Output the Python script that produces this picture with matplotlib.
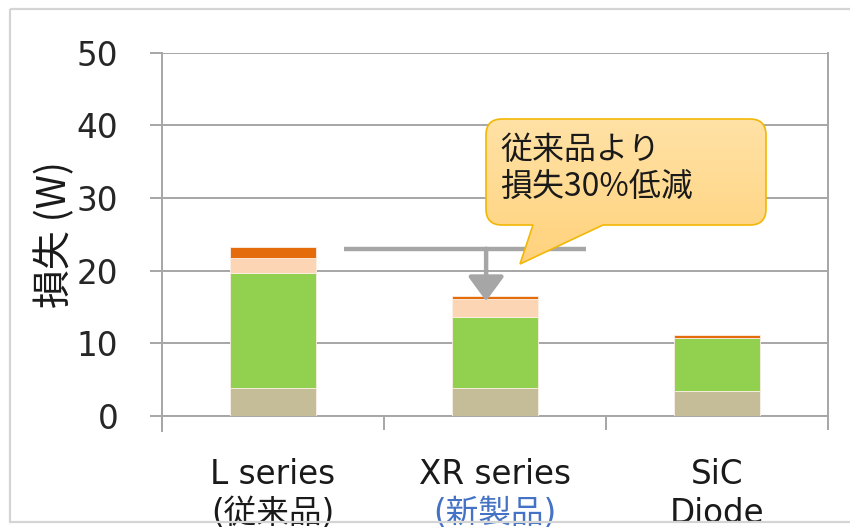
import numpy as np
import matplotlib
matplotlib.use('Agg')
import matplotlib.pyplot as plt
from matplotlib.path import Path
from matplotlib.patches import PathPatch, Rectangle
from matplotlib.colors import LinearSegmentedColormap
from matplotlib.transforms import Affine2D

plt.rcParams['font.family'] = ['DejaVu Sans', 'Noto Sans CJK JP']

# data
categories = ['L series\n(従来品)', 'XR series\n(新製品)', 'SiC\nDiode']
sub_colors = ['#1A1A1A', '#4472C4', '#1A1A1A']
base_loss = [3.9, 3.9, 3.4]
green_loss = [15.8, 9.7, 7.3]
peach_loss = [2.1, 2.5, 0.0]
orange_loss = [1.5, 0.4, 0.5]
yticks = [0, 10, 20, 30, 40, 50]

colors = ['#C4BD97', '#92D050', '#FCD5B5', '#E46C0A']
grid_c = '#A6A6A6'

W, H = 850, 527
fig = plt.figure(figsize=(W / 100, H / 100), dpi=100)
ax = fig.add_axes([162 / W, 1 - 416 / H, (828 - 162) / W, (416 - 52.5) / H])

# pixel coords (origin top-left) -> figure
px = Affine2D().scale(1 / W, -1 / H).translate(0, 1) + fig.transFigure

# light outer frame
fig.patches.append(Rectangle((10, 9), 900, 513, transform=px, fill=False,
                             ec='#D4D4D4', lw=1.6))

x = np.arange(len(categories))
bottom = np.zeros(len(categories))
for vals, c in zip([base_loss, green_loss, peach_loss, orange_loss], colors):
    ax.bar(x, vals, width=0.39, bottom=bottom, color=c, edgecolor='#FBEFE6',
           linewidth=0.6, zorder=3)
    bottom += np.array(vals)
totals = bottom

ax.set_xlim(-0.5, 2.5)
ax.set_ylim(0, 50)
ax.set_yticks(yticks)
ax.yaxis.grid(True, color=grid_c, lw=1.4)
ax.set_axisbelow(True)
for s in ax.spines.values():
    s.set_color(grid_c)
    s.set_linewidth(1.4)
ax.spines['left'].set_bounds(-2, 50)
ax.spines['top'].set_visible(False)

ax.set_xticks([-0.5, 0.5, 1.5, 2.5])
ax.set_xticklabels([])
ax.set_xticks(x, minor=True)
ax.set_xticklabels([c.split('\n')[0] for c in categories], minor=True,
                   fontsize=23.5, color='#1A1A1A')
ax.tick_params(axis='x', which='major', length=10, width=1.4, color=grid_c)
ax.tick_params(axis='x', which='minor', length=0, pad=30)
ax.tick_params(axis='y', length=8.5, width=1.4, color=grid_c, pad=23,
               labelsize=23.5, labelcolor='#262626')
ax.set_ylabel('損失 (W)', fontsize=28, labelpad=1, color='#1A1A1A',
              family=['Noto Sans CJK JP', 'DejaVu Sans'])

# second line of each category label
for i, c in enumerate(categories):
    ax.annotate(c.split('\n')[1], xy=(i, 0), xycoords=('data', 'axes fraction'),
                xytext=(0, -58), textcoords='offset points', ha='center',
                va='top', fontsize=23.5, color=sub_colors[i])

# comparison line and arrow
ax.plot([0.32, 1.41], [totals[0] - 0.3, totals[0] - 0.3], color=grid_c,
        lw=3.2, solid_capstyle='butt', zorder=4)
ax.annotate('', xy=(0.96, totals[1] - 0.7), xytext=(0.96, totals[0] - 0.3),
            arrowprops=dict(arrowstyle='-|>,head_length=0.75,head_width=0.55',
                            color=grid_c, lw=3.2, shrinkA=0, shrinkB=0,
                            mutation_scale=20),
            zorder=4)

# speech-bubble callout (pixel layout)
x0, x1, y0, y1, r = 486, 766, 119, 225, 16
tip = (520, 264)
tb0, tb1 = 533, 603
verts = [(x0 + r, y0), (x1 - r, y0), (x1, y0), (x1, y0 + r),
         (x1, y1 - r), (x1, y1), (x1 - r, y1),
         (tb1, y1), tip, (tb0, y1),
         (x0 + r, y1), (x0, y1), (x0, y1 - r),
         (x0, y0 + r), (x0, y0), (x0 + r, y0)]
codes = [Path.MOVETO, Path.LINETO, Path.CURVE3, Path.CURVE3,
         Path.LINETO, Path.CURVE3, Path.CURVE3,
         Path.LINETO, Path.LINETO, Path.LINETO,
         Path.LINETO, Path.CURVE3, Path.CURVE3,
         Path.LINETO, Path.CURVE3, Path.CURVE3]
gax = fig.add_axes([0, 0, 1, 1])
gax.set_axis_off()
gax.set_xlim(0, W)
gax.set_ylim(H, 0)
gax.set_zorder(5)
gax.patch.set_visible(False)
grad = np.linspace(0, 1, 256).reshape(-1, 1)
img = gax.imshow(grad, extent=[x0, x1, tip[1], y0], aspect='auto',
                 origin='upper', zorder=5,
                 cmap=LinearSegmentedColormap.from_list('b', ['#FFE2A6', '#FFD27C']))
bubble = PathPatch(Path(verts, codes), transform=gax.transData, fc='none',
                   ec='#F2B705', lw=1.2, zorder=6)
gax.add_patch(bubble)
img.set_clip_path(bubble)
gax.text(500, 168, '従来品より\n損失30%低減', fontsize=23, va='center',
         ha='left', linespacing=1.2, color='#1A1A1A', zorder=7,
         family=['Noto Sans CJK JP', 'DejaVu Sans'])

fig.savefig('out.png', dpi=100)
